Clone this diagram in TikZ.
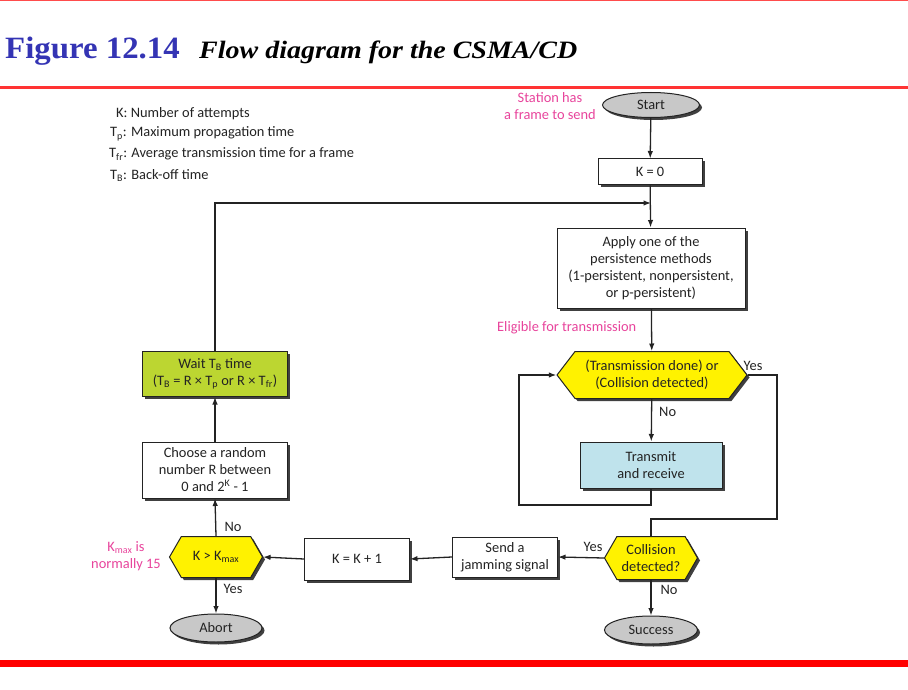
\documentclass[tikz,border=0pt]{standalone}
\usepackage{fontspec}
\usepackage{graphicx}
\setmainfont{Carlito}
\newfontfamily\titlefont{Liberation Serif}
\usetikzlibrary{shapes.geometric,shapes.symbols,shadows,arrows.meta}
\definecolor{hexyellow}{RGB}{255,242,0}
\definecolor{waitgreen}{RGB}{188,214,49}
\definecolor{txblue}{RGB}{191,227,236}
\definecolor{ovalgray}{RGB}{200,200,200}
\definecolor{notepink}{RGB}{232,68,156}
\definecolor{titleblue}{RGB}{52,52,180}
\definecolor{inkgray}{RGB}{35,35,35}
\newcommand\lsub[1]{\textsubscript{#1}}
\begin{document}
\begin{tikzpicture}[x=1pt,y=-1pt,
  every node/.style={inner sep=0pt, text=inkgray},
  txt/.style={font=\fontsize{14.4}{17}\selectfont, align=center},
  shad/.style={drop shadow={shadow xshift=2.5pt,shadow yshift=-2.5pt,fill=black!75,opacity=1}},
  box/.style={txt, draw=inkgray, line width=1pt, fill=white, shad, rectangle},
  hexa/.style={txt, draw=inkgray, line width=1pt, fill=hexyellow, shad, signal, signal to=west and east},
  oval/.style={txt, draw=inkgray, line width=1pt, fill=ovalgray, shad, ellipse},
  note/.style={font=\fontsize{14.4}{17}\selectfont, align=center, text=notepink},
  lbl/.style={font=\fontsize{14.4}{17}\selectfont},
  legend/.style={font=\fontsize{14.4}{16}\selectfont, anchor=base west},
  conn/.style={draw=inkgray, line width=1.3pt},
  arr/.style={conn, -{Latex[length=7.5pt,width=5.5pt]}}
]
\useasboundingbox (0,0) rectangle (908,690);
\fill[white] (0,0) rectangle (908,690);
% rules
\fill[red!70] (0,0) rectangle (908,1.5);
\fill[red!80] (0,86.5) rectangle (908,89.5);
\fill[red] (0,660) rectangle (908,667);
% title
\node[anchor=base west, text=titleblue, font=\titlefont\bfseries\fontsize{31}{31}\selectfont] (fig) at (5,59) {\scalebox{1.06}[1]{Figure 12.14}};
\node[anchor=base west, text=black, font=\titlefont\bfseries\itshape\fontsize{25}{25}\selectfont] (ttl) at (199,59) {\scalebox{1.12}[1]{Flow diagram for the CSMA/CD}};
% legend
\node[legend] (l1) at (116,118) {K: Number of attempts};
\node[legend] (l2) at (110,137) {T\lsub{p}: Maximum propagation time};
\node[legend] (l3) at (109,158) {T\lsub{fr}: Average transmission time for a frame};
\node[legend] (l4) at (110,179) {T\lsub{B}: Back-off time};
% nodes
\node[oval, minimum width=97pt, minimum height=25pt] (start) at (651,105) {Start};
\node[box, minimum width=104pt, minimum height=26pt] (k0) at (650,172) {K = 0};
\node[box, minimum width=188pt, minimum height=80pt] (apply) at (651,268) {Apply one of the\\persistence methods\\(1-persistent, nonpersistent,\\or p-persistent)};
\node[hexa, minimum width=190pt, minimum height=47pt, signal pointer angle=105] (hex1) at (652,375) {(Transmission done) or\\(Collision detected)};
\node[box, fill=txblue, minimum width=142pt, minimum height=46pt] (trans) at (651,465) {Transmit\\and receive};
\node[hexa, minimum width=93pt, minimum height=43pt, signal pointer angle=120] (coll) at (651,558) {Collision\\detected?};
\node[oval, minimum width=93pt, minimum height=28pt] (success) at (651,630) {Success};
\node[box, minimum width=105pt, minimum height=40pt] (jam) at (505,557) {Send a\\jamming signal};
\node[box, minimum width=105pt, minimum height=42pt] (kinc) at (357,559) {K = K + 1};
\node[hexa, minimum width=93pt, minimum height=41pt, signal pointer angle=120] (kmax) at (216,557) {K > K\lsub{max}};
\node[oval, minimum width=92pt, minimum height=28pt] (abort) at (216,628) {Abort};
\node[box, minimum width=145pt, minimum height=56pt] (choose) at (215,470) {Choose a random\\number R between\\0 and 2\textsuperscript{K} - 1};
\node[box, fill=waitgreen, minimum width=145pt, minimum height=45pt] (wait) at (215,374) {Wait T\lsub{B} time\\(T\lsub{B} = R × T\lsub{p} or R × T\lsub{fr})};
% notes
\node[note] (station) at (550,106) {Station has\\a frame to send};
\node[note, anchor=base west] (elig) at (497,331) {Eligible for transmission};
\node[note] (kmaxnote) at (126,556) {K\lsub{max} is\\normally 15};
% helper coordinates
\coordinate (top) at (651,203);
\coordinate (lb) at (519,505);
\coordinate (rb) at (777,519);
% connectors
\draw[arr] (start) -- (k0);
\draw[arr] (k0) -- (apply);
\draw[arr] (wait.north) |- (top);
\draw[arr] (apply) -- (hex1);
\draw[arr] (hex1) -- node[lbl, right=7pt, pos=0.3] (no1) {No} (trans);
\draw[arr] (trans.south) |- (lb) |- (hex1.west);
\draw[conn] (hex1.east) -| (rb) -| (coll.north);
\node[lbl] (yes1) at (753,366) {Yes};
\draw[arr] (coll.west) -- (jam.east);
\node[lbl] (yes2) at (593,547) {Yes};
\draw[arr] (coll.south) -- (success.north);
\node[lbl] (no2) at (669,590) {No};
\draw[arr] (jam.west) -- (kinc.east);
\draw[arr] (kinc.west) -- (kmax.east);
\draw[arr] (kmax.south) -- (abort.north);
\node[lbl] (yes3) at (233,589) {Yes};
\draw[arr] (kmax.north) -- (choose.south);
\node[lbl] (no3) at (233,527) {No};
\draw[arr] (choose.north) -- (wait.south);
\end{tikzpicture}
\end{document}
